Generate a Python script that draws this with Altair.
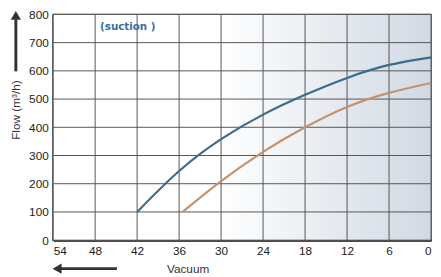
import altair as alt
import pandas as pd

# Data
blue_x = [42, 36, 30, 24, 18, 12, 6, 0]
blue_y = [100, 245, 358, 445, 515, 575, 621, 648]
orange_x = [35.5, 30, 24, 18, 12, 6, 0]
orange_y = [100, 209, 313, 400, 472, 522, 557]
x_ticks = [54, 48, 42, 36, 30, 24, 18, 12, 6, 0]
y_ticks = [0, 100, 200, 300, 400, 500, 600, 700, 800]

W, H = 385, 230

df = pd.DataFrame(
    {"vac": blue_x + orange_x,
     "flow": blue_y + orange_y,
     "s": ["a"] * len(blue_x) + ["b"] * len(orange_x)}
)
xg = pd.DataFrame({"vac": x_ticks})
yg = pd.DataFrame({"flow": y_ticks})

xscale = alt.Scale(domain=[0, 54], reverse=True, nice=False, zero=False)
yscale = alt.Scale(domain=[0, 800], nice=False)

x_axis = alt.Axis(values=x_ticks, title="Vacuum", labelFlush=True,
                  ticks=False, labelPadding=6, grid=False,
                  titleX=137, titleY=29, titleAlign="center",
                  titleBaseline="middle", titleFontWeight="normal",
                  titleFontSize=12)
y_axis = alt.Axis(values=y_ticks, title="Flow (m³/h)", ticks=False,
                  labelPadding=5, grid=False, labelOverlap=False,
                  titleX=-38, titleY=97, titleAlign="center",
                  titleBaseline="middle", titleFontWeight="normal",
                  titleFontSize=12)

one = alt.Data(values=[{"k": 1}])

grad = alt.LinearGradient(
    gradient="linear",
    stops=[alt.GradientStop(offset=0, color="#ffffff"),
           alt.GradientStop(offset=0.44, color="#ffffff"),
           alt.GradientStop(offset=1, color="#d0d9e3")],
    x1=0, x2=1, y1=0, y2=0,
)

bg = alt.Chart(one).mark_rect(color=grad).encode(
    x=alt.value(0), x2=alt.value(W), y=alt.value(0), y2=alt.value(H)
)

vgrid = alt.Chart(xg).mark_rule(color="#555555", strokeWidth=1).encode(
    x=alt.X("vac:Q", scale=xscale, axis=x_axis), y=alt.value(0), y2=alt.value(H)
)
hgrid = alt.Chart(yg).mark_rule(color="#555555", strokeWidth=1).encode(
    y=alt.Y("flow:Q", scale=yscale, axis=y_axis), x=alt.value(0), x2=alt.value(W)
)

lines = alt.Chart(df).mark_line(interpolate="natural", strokeWidth=2.2).encode(
    x=alt.X("vac:Q", scale=xscale, axis=x_axis),
    y=alt.Y("flow:Q", scale=yscale, axis=y_axis),
    color=alt.Color("s:N", scale=alt.Scale(domain=["a", "b"],
                                           range=["#3a6d8c", "#c4926c"]),
                    legend=None),
    detail="s:N",
)

label = alt.Chart(one).mark_text(
    text="(suction )", font="DejaVu Sans", fontWeight="bold", fontSize=10.5,
    color="#3a70a0", align="center", baseline="middle"
).encode(x=alt.value(76), y=alt.value(13))

arrow_col = "#333333"
up_shaft = alt.Chart(one).mark_rule(strokeWidth=3, color=arrow_col, clip=False).encode(
    x=alt.value(-38), y=alt.value(5), y2=alt.value(58)
)
up_tip = alt.Chart(one).mark_point(shape="triangle-up", filled=True, size=110,
                                   color=arrow_col, opacity=1, clip=False).encode(
    x=alt.value(-38), y=alt.value(1)
)
left_shaft = alt.Chart(one).mark_rule(strokeWidth=3, color=arrow_col, clip=False).encode(
    x=alt.value(6), x2=alt.value(65), y=alt.value(259)
)
left_tip = alt.Chart(one).mark_point(shape="triangle-left", filled=True, size=110,
                                     color=arrow_col, opacity=1, clip=False).encode(
    x=alt.value(4), y=alt.value(259)
)

chart = alt.layer(bg, vgrid, hgrid, lines, label, up_shaft, up_tip, left_shaft, left_tip).properties(
    width=W, height=H,
    padding={"left": 46, "top": 4, "right": 2, "bottom": 35},
    autosize=alt.AutoSizeParams(type="none"),
).configure_view(
    stroke="#444444", strokeWidth=1.5
).configure_axis(
    domainColor="#111111", domainWidth=2,
    labelFont="Liberation Sans", labelFontSize=12, labelColor="#222222",
    titleFont="Liberation Sans", titleColor="#333333",
)

chart.save("out.html", embed_options={"renderer": "svg", "actions": False})
